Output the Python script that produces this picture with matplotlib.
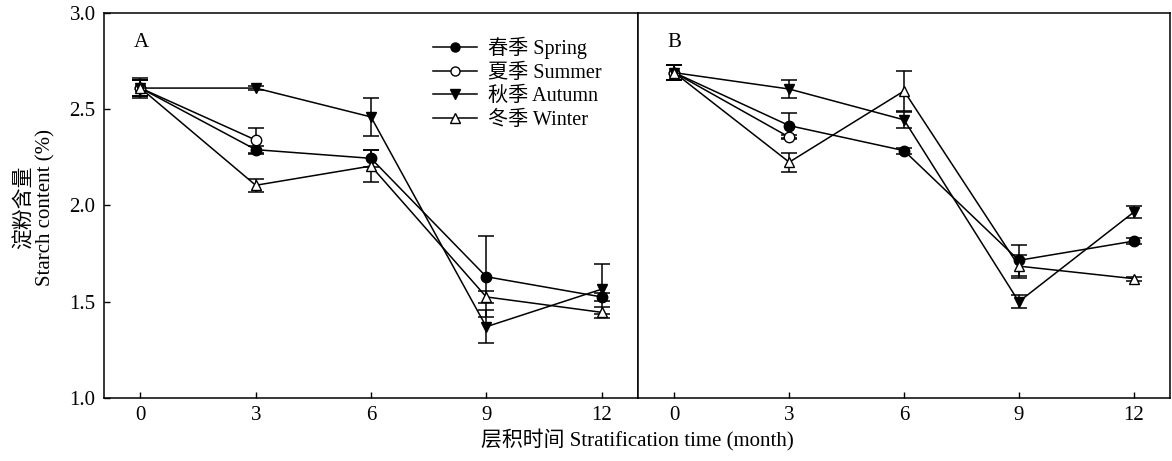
import numpy as np
import matplotlib.pyplot as plt
from matplotlib.lines import Line2D

plt.rcParams['font.family'] = ['Liberation Serif', 'Noto Sans CJK SC']
plt.rcParams['axes.unicode_minus'] = False

months = [0, 3, 6, 9, 12]
labels = ['春季 Spring', '夏季 Summer', '秋季 Autumn', '冬季 Winter']
nan = np.nan

# panel A
a_spring = [2.61, 2.29, 2.245, 1.63, 1.525]
a_spring_err = [0.04, 0.02, 0.045, 0.21, 0.02]
a_summer = [2.61, 2.34, nan, nan, nan]
a_summer_err = [0.04, 0.065, nan, nan, nan]
a_autumn = [2.61, 2.61, 2.46, 1.37, 1.565]
a_autumn_err = [0.04, 0.01, 0.10, 0.085, 0.13]
a_winter = [2.61, 2.105, 2.205, 1.525, 1.445]
a_winter_err = [0.05, 0.035, 0.085, 0.03, 0.03]

# panel B
b_spring = [2.69, 2.415, 2.285, 1.715, 1.815]
b_spring_err = [0.04, 0.065, 0.015, 0.08, 0.015]
b_summer = [2.69, 2.355, nan, nan, nan]
b_summer_err = [0.04, 0.01, nan, nan, nan]
b_autumn = [2.69, 2.605, 2.445, 1.50, 1.965]
b_autumn_err = [0.04, 0.045, 0.04, 0.035, 0.03]
b_winter = [2.69, 2.225, 2.595, 1.685, 1.62]
b_winter_err = [0.04, 0.05, 0.105, 0.06, 0.01]

styles = [dict(marker='o', mfc='black'),
          dict(marker='o', mfc='white'),
          dict(marker='v', mfc='black'),
          dict(marker='^', mfc='white')]

fig = plt.figure(figsize=(11.72, 4.61), dpi=100)
axA = fig.add_axes([0.0887, 0.1367, 0.4557, 0.8351])
axB = fig.add_axes([0.5444, 0.1367, 0.4539, 0.8351])

panels = [(axA, 'A', [a_spring, a_summer, a_autumn, a_winter],
           [a_spring_err, a_summer_err, a_autumn_err, a_winter_err]),
          (axB, 'B', [b_spring, b_summer, b_autumn, b_winter],
           [b_spring_err, b_summer_err, b_autumn_err, b_winter_err])]

for ax, tag, series, errs in panels:
    for y, e, st in zip(series, errs, styles):
        ax.errorbar(months, y, yerr=e, color='black', lw=1.1,
                    marker=st['marker'], mfc=st['mfc'], mec='black', ms=7.5,
                    capsize=5.5, elinewidth=1.1, capthick=1.1)
    ax.set_xlim(-0.95, 12.95)
    ax.set_ylim(1.0, 3.0)
    ax.set_xticks(months)
    ax.set_yticks([1.0, 1.5, 2.0, 2.5, 3.0])
    ax.tick_params(direction='in', length=4, width=1, labelsize=15, pad=6)
    ax.text(0.056, 0.912, tag, transform=ax.transAxes, fontsize=15)
    for sp in ax.spines.values():
        sp.set_linewidth(1.1)

axA.yaxis.set_major_formatter(plt.FormatStrFormatter('%.1f'))
axB.tick_params(axis='y', left=False, labelleft=False)

handles = [Line2D([], [], color='black', lw=1.1, marker=st['marker'],
                  mfc=st['mfc'], mec='black', ms=6.5) for st in styles]
axA.legend(handles, labels, loc='upper left', bbox_to_anchor=(0.59, 0.975),
           frameon=False, fontsize=14.5, handlelength=2.2, labelspacing=0.22,
           borderpad=0.2, handletextpad=0.5)

fig.text(0.03, 0.55, '淀粉含量\nStarch content (%)', rotation=90,
         ha='center', va='center', fontsize=15, linespacing=1.15)
fig.text(0.544, 0.045, '层积时间 Stratification time (month)',
         ha='center', va='center', fontsize=15)

fig.savefig('out.png', dpi=100)
